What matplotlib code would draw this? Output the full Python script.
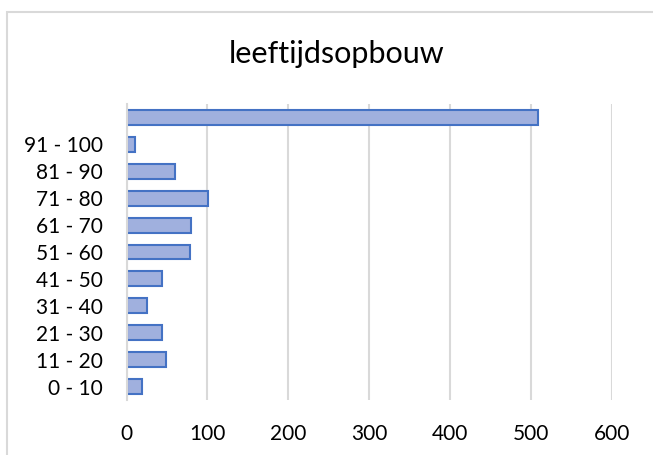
import matplotlib
matplotlib.use("Agg")
import matplotlib.pyplot as plt
from matplotlib.patches import Rectangle

categories = ["0 - 10", "11 - 20", "21 - 30", "31 - 40", "41 - 50", "51 - 60",
              "61 - 70", "71 - 80", "81 - 90", "91 - 100", ""]
values = [19, 49, 44, 25, 44, 78, 80, 101, 60, 10, 508]
xticks = [0, 100, 200, 300, 400, 500, 600]
title = "leeftijdsopbouw"

plt.rcParams['font.family'] = ['Lato', 'DejaVu Sans']

W, H = 653, 455
fig = plt.figure(figsize=(W / 100, H / 100), dpi=100)
fig.patch.set_facecolor("white")

# outer chart border
fig.patches.append(Rectangle((7 / W, -0.1), 1.2, 1 - 12 / H + 0.1,
                             transform=fig.transFigure, fill=False,
                             edgecolor="#d9d9d9", linewidth=1.5))

ax = fig.add_axes([126.5 / W, 1 - 400 / H, (612.3 - 126.5) / W, (400 - 104) / H])
ypos = list(range(len(categories)))
ax.barh(ypos, values, height=0.556, color="#a0b0de", edgecolor="#4472c4",
        linewidth=1.5, zorder=3)
ax.set_xlim(0, 600)
ax.set_ylim(-0.5, len(categories) - 0.5)
ax.set_xticks(xticks)
ax.set_xticklabels([str(t) for t in xticks])
ax.set_yticks(ypos)
ax.set_yticklabels(categories)
ax.tick_params(axis="both", length=0, labelsize=15, colors="black")
ax.tick_params(axis="y", pad=17)
ax.tick_params(axis="x", pad=17)
ax.grid(axis="x", color="#d9d9d9", linewidth=1.5, zorder=0)
for s in ["top", "right", "bottom"]:
    ax.spines[s].set_visible(False)
ax.spines["left"].set_color("#d9d9d9")
ax.spines["left"].set_linewidth(1.5)
ax.spines["left"].set_zorder(4)

fig.text(337 / W, 1 - 63 / H, title, ha="center", va="baseline", fontsize=22)

fig.savefig("out.png", dpi=100)
